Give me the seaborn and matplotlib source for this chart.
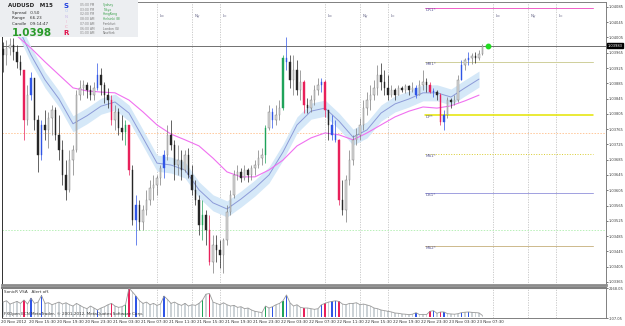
import matplotlib
matplotlib.use("Agg")
import numpy as np
import pandas as pd
import seaborn as sns
from matplotlib import pyplot as plt
from matplotlib.patches import Rectangle
import matplotlib.transforms as mtransforms

# Prices are stored in pips above BASE.
BASE = 1.0300
PIP = 0.0001

first_open = 97.5
bar_high = [
    99.3, 99.8, 100.4, 100.4, 98.5, 95.9, 92.0, 88.0, 91.5, 89.9,
    80.2, 78.9, 81.5, 81.0, 82.8, 82.3, 80.2, 73.7, 68.4, 71.0,
    72.3, 86.7, 89.4, 89.4, 88.8, 88.0, 88.8, 93.8, 92.5, 88.8,
    87.3, 85.4, 82.8, 82.0, 80.2, 78.9, 77.6, 67.1, 59.3, 57.9,
    56.6, 60.6, 63.2, 64.5, 64.5, 67.1, 71.0, 77.6, 78.9, 73.7,
    72.3, 71.0, 71.0, 71.6, 67.1, 63.2, 59.3, 57.9, 55.3, 54.0,
    48.8, 48.8, 47.5, 48.0, 56.6, 60.6, 65.8, 67.1, 66.3, 67.1,
    66.3, 67.1, 68.4, 71.0, 71.6, 77.6, 82.8, 82.0, 82.8, 84.1,
    95.9, 100.6, 95.9, 95.9, 94.6, 92.0, 89.4, 84.6, 85.4, 88.0,
    89.9, 89.9, 89.4, 81.5, 80.2, 78.9, 74.0, 63.2, 64.5, 71.0,
    75.0, 76.8, 79.4, 84.1, 86.2, 88.0, 89.4, 93.3, 93.8, 92.0,
    90.7, 88.0, 87.3, 88.0, 87.8, 88.3, 88.0, 88.8, 88.0, 89.4,
    92.0, 89.9, 88.8, 87.3, 86.7, 86.0, 81.5, 84.9, 84.6, 85.4,
    90.7, 94.6, 95.1, 96.7, 96.4, 96.7, 97.2, 98.8,
]
bar_low = [
    91.5, 93.3, 95.9, 94.6, 92.5, 90.7, 73.7, 77.6, 84.1, 76.3,
    65.3, 68.4, 73.7, 71.6, 75.0, 73.7, 68.4, 61.9, 57.9, 60.0,
    64.5, 70.5, 84.1, 85.4, 84.6, 84.1, 84.1, 86.7, 85.4, 83.3,
    82.0, 77.6, 76.3, 75.0, 73.7, 72.3, 64.5, 51.4, 46.2, 50.1,
    50.1, 54.0, 56.6, 57.9, 59.3, 61.9, 63.7, 68.4, 71.0, 63.2,
    64.5, 63.2, 65.3, 63.7, 59.3, 56.6, 48.8, 47.5, 46.2, 40.9,
    38.8, 41.7, 40.1, 38.8, 46.2, 54.0, 58.5, 63.2, 62.7, 63.2,
    62.7, 63.2, 64.5, 66.3, 67.1, 67.6, 76.3, 76.8, 77.6, 78.9,
    81.5, 92.0, 87.3, 85.4, 85.4, 84.1, 80.7, 80.7, 81.0, 82.8,
    85.4, 86.2, 79.7, 73.7, 73.7, 73.1, 56.6, 54.0, 52.2, 61.9,
    67.1, 72.3, 73.7, 76.3, 80.2, 81.5, 84.1, 85.4, 86.7, 85.4,
    84.1, 84.9, 84.1, 85.4, 86.2, 86.0, 85.4, 86.2, 84.6, 85.4,
    86.7, 86.2, 86.0, 84.9, 84.1, 77.6, 76.3, 79.4, 82.0, 82.8,
    83.6, 89.4, 92.0, 93.3, 93.5, 93.8, 94.6, 95.9,
]
bar_close = [
    95.9, 97.7, 98.5, 96.7, 94.1, 92.0, 78.9, 85.4, 89.9, 78.9,
    69.7, 77.6, 76.3, 79.4, 81.5, 75.0, 71.0, 64.5, 60.6, 68.4,
    71.0, 85.4, 87.3, 88.0, 86.7, 85.4, 87.3, 90.7, 88.0, 85.4,
    84.1, 78.9, 81.0, 76.8, 75.7, 77.6, 65.8, 52.7, 56.6, 52.2,
    55.3, 57.9, 61.1, 61.9, 63.7, 66.3, 69.7, 75.0, 72.3, 67.1,
    68.4, 65.8, 69.7, 64.5, 60.6, 57.9, 51.4, 54.0, 50.1, 41.7,
    46.2, 44.9, 43.5, 47.5, 54.8, 59.3, 64.5, 65.3, 63.7, 65.8,
    64.5, 66.3, 67.1, 68.9, 69.7, 76.8, 81.0, 78.9, 80.2, 82.0,
    95.1, 94.1, 89.4, 92.0, 86.7, 88.8, 82.8, 82.0, 84.1, 86.7,
    88.0, 88.8, 81.5, 77.6, 75.0, 73.7, 57.9, 55.3, 63.2, 68.4,
    73.7, 75.0, 77.6, 82.0, 84.1, 85.4, 87.3, 90.7, 88.8, 87.3,
    85.4, 86.7, 85.4, 87.3, 86.7, 87.8, 86.7, 87.3, 85.4, 88.0,
    88.8, 88.0, 86.2, 86.2, 85.4, 78.4, 80.2, 84.1, 83.6, 84.1,
    89.4, 93.3, 94.6, 95.1, 95.6, 95.1, 96.2, 98.3,
]
bar_volume = [
    1100, 1200, 950, 1050, 1150, 1000, 1260, 950, 1400, 1000,
    1100, 1600, 1000, 1050, 900, 1000, 1100, 950, 1050, 900,
    800, 1000, 850, 700, 600, 800, 650, 500, 650, 750,
    900, 1000, 800, 700, 750, 900, 2170, 1870, 1560, 1200,
    1000, 1100, 900, 1000, 850, 950, 1560, 1300, 1000, 1100,
    950, 850, 1000, 800, 900, 850, 1000, 1250, 1700, 1750,
    1100, 1000, 900, 1050, 900, 800, 850, 700, 750, 600,
    650, 500, 400, 350, 300, 800, 650, 750, 900, 1000,
    1200, 1640, 1050, 800, 900, 700, 650, 650, 600, 550,
    600, 900, 1000, 1100, 1150, 1200, 1150, 950, 900, 1000,
    1000, 1050, 900, 950, 880, 800, 650, 600, 500, 450,
    400, 350, 270, 250, 200, 180, 150, 180, 300, 150,
    170, 150, 400, 450, 250, 350, 350, 220, 200, 180,
    220, 300, 330, 350, 320, 300, 280, 80,
]
# SonicR VSA highlighted bars (bar index -> colour name)
vsa_marks = {
    6: "red", 8: "blue", 11: "blue", 27: "blue", 31: "red", 35: "green",
    36: "red", 38: "blue", 46: "blue", 57: "green", 59: "red", 75: "green",
    77: "blue", 80: "green", 81: "blue", 86: "red", 91: "blue", 92: "red",
    94: "blue", 95: "blue", 96: "red", 118: "blue", 122: "red", 123: "blue",
    125: "red", 126: "blue", 131: "blue", 133: "blue",
}

# moving averages, read every 8 M15 slots (pips above BASE)
dragon_mid = [
    109.0, 103.8, 95.9, 89.4, 84.4, 77.9, 80.0, 82.5, 83.6, 80.7,
    74.2, 67.6, 67.1, 65.8, 60.6, 57.2, 55.6, 58.2, 61.1, 64.5,
    70.5, 77.6, 81.2, 82.0, 78.6, 74.4, 76.3, 80.7, 83.1, 84.4,
    86.0, 86.0, 84.9, 87.3, 89.6,
]
dragon_half_width = 2.1
trend_ma = [
    104.0, 100.9, 97.7, 94.1, 90.7, 87.3, 86.5, 86.2, 86.0, 84.1,
    81.0, 77.6, 75.2, 73.7, 72.1, 68.9, 65.3, 64.0, 64.0, 65.8,
    68.4, 72.1, 74.2, 75.5, 75.0, 73.7, 75.5, 77.6, 79.7, 81.2,
    82.3, 82.0, 82.6, 83.9, 85.4,
]

# pivot levels (pips above BASE)
pivot_names = ["DR1*", "MR1*", "DP*", "MS1*", "DS1*", "MS2*"]
pivot_levels = [108.2, 94.1, 80.2, 70.0, 59.8, 45.9]
pivot_colors = ["#f060c8", "#cfcf9a", "#e4e400", "#d8cc30", "#a0a0e0", "#cdb98c"]
pivot_styles = ["-", "-", "-", ":", "-", "-"]
weekly_levels = [75.5, 50.1]
weekly_colors = ["#ffc89a", "#b8f0b8"]
last_price = 98.3

session_names = ["Lo", "Ny", "Lc"] * 3
session_slots = [88, 108, 124, 184, 204, 220, 280, 300, 316]

time_labels = [
    "20 Nov 2012", "20 Nov 15:30", "20 Nov 19:30", "20 Nov 23:30",
    "21 Nov 03:30", "21 Nov 07:30", "21 Nov 11:30", "21 Nov 15:30",
    "21 Nov 19:30", "21 Nov 23:30", "22 Nov 03:30", "22 Nov 07:30",
    "22 Nov 11:30", "22 Nov 15:30", "22 Nov 19:30", "22 Nov 23:30",
    "23 Nov 03:30", "23 Nov 07:30",
]
price_ticks = [1.03365 + 0.0004 * k for k in range(19)]

info_times = ["05:00 PM", "03:00 PM", "02:00 PM", "08:00 AM", "07:00 AM", "06:00 AM", "01:00 AM"]
info_cities = ["Sydney", "Tokyo", "HongKong", "Helsinki (B)", "Frankfurt", "London (G)", "NewYork"]

# ---------------------------------------------------------------------------
sns.set_style("white")
plt.rcParams["font.family"] = ["DejaVu Sans"]

W, H = 625, 326
RIGHT = 606  # pixel column of the price scale
palette = {"red": "#e8205a", "blue": "#2f55e6", "green": "#1fa35a"}

bars = pd.DataFrame({"high": bar_high, "low": bar_low, "close": bar_close, "volume": bar_volume})
bars["open"] = [first_open] + bar_close[:-1]
for col in ["open", "high", "low", "close"]:
    bars[col] = BASE + bars[col] * PIP
bars["x"] = np.arange(len(bars)) * 2  # one 30-min bar = two M15 slots

ma = pd.DataFrame({"x": np.arange(len(dragon_mid)) * 8,
                   "mid": BASE + np.array(dragon_mid) * PIP,
                   "trend": BASE + np.array(trend_ma) * PIP})

fig = plt.figure(figsize=(W / 100, H / 100), dpi=100)
ax = fig.add_axes([2 / W, 41 / H, (RIGHT - 2) / W, 283 / H])
axv = fig.add_axes([2 / W, 8 / H, (RIGHT - 2) / W, 30 / H], sharex=ax)

xlim = (-0.57, (RIGHT - 3) / 1.75)
ax.set_xlim(*xlim)
ax.set_ylim(BASE + 35.69 * PIP, BASE + 109.78 * PIP)

# session separators
for slot, name in zip(session_slots, session_names):
    for a in (ax, axv):
        a.axvline(slot, color="#c4c4c4", lw=0.6, ls=(0, (1.5, 1.5)), zorder=0)
    ax.text(slot + 1.5, BASE + 106.0 * PIP, name, fontsize=3, color="#6a6a8a", va="center")

# weekly pivots / current price (full width)
for lvl, col in zip(weekly_levels, weekly_colors):
    ax.axhline(BASE + lvl * PIP, color=col, lw=0.7, ls=(0, (1.5, 1.5)), zorder=1)
ax.axhline(BASE + last_price * PIP, color="#707070", lw=0.7, zorder=1)

# dragon band + moving averages
ax.fill_between(ma["x"], ma["mid"] - dragon_half_width * PIP, ma["mid"] + dragon_half_width * PIP,
                color="#d5e8f8", lw=0, zorder=1)
sns.lineplot(data=ma, x="x", y="mid", ax=ax, color="#8c9ad8", lw=0.7, zorder=2)
sns.lineplot(data=ma, x="x", y="trend", ax=ax, color="#f070f0", lw=0.8, zorder=2)

# candles
up = bars["close"] >= bars["open"]
faces, edges = [], []
for i, is_up in enumerate(up):
    name = vsa_marks.get(i)
    if name:
        faces.append(palette[name]); edges.append(palette[name])
    elif is_up:
        faces.append("#d8d8d8"); edges.append("#7a7a7a")
    else:
        faces.append("#262626"); edges.append("#262626")
ax.vlines(bars["x"], bars["low"], bars["high"], colors=edges, lw=0.5, zorder=3)
body_lo = np.minimum(bars["open"], bars["close"])
body_h = np.maximum(np.abs(bars["close"] - bars["open"]), 0.2 * PIP)
ax.bar(bars["x"], body_h, bottom=body_lo, width=0.95, color=faces, edgecolor=edges, lw=0.3, zorder=4)

# daily / monthly pivots on the right
for name, lvl, col, ls in zip(pivot_names, pivot_levels, pivot_colors, pivot_styles):
    y = BASE + lvl * PIP
    lw = 1.1 if name == "DP*" else 0.7
    ax.plot([241, 337], [y, y], color=col, lw=lw, ls=ls, zorder=2)
    ax.text(241.5, y, name, fontsize=3, color="#5a5a96", va="top", zorder=5)

ax.plot([277], [BASE + last_price * PIP], "o", color="#22dd22", ms=3.2, zorder=6)

# price axis
ax.yaxis.tick_right()
ax.set_yticks(price_ticks)
ax.set_yticklabels([f"{p:.5f}" for p in price_ticks])
ax.tick_params(axis="y", labelsize=2.6, length=1.2, pad=0.6, colors="#404040", width=0.5)
ax.tick_params(axis="x", bottom=False, labelbottom=False)
ax.set_xlabel("")
ax.set_ylabel("")
ax.text(1.0025, BASE + last_price * PIP, "1.03983", fontsize=2.6, color="white", va="center", ha="left",
        transform=mtransforms.blended_transform_factory(ax.transAxes, ax.transData),
        bbox=dict(boxstyle="square,pad=0.12", fc="black", ec="black"), zorder=7, clip_on=False)

for s in ax.spines.values():
    s.set_color("#808080"); s.set_linewidth(0.7)
ax.spines["left"].set_color("#303030")
ax.spines["bottom"].set_linewidth(2.0)
ax.spines["bottom"].set_color("#8c8c8c")

# volume panel
vcol = [palette[vsa_marks[i]] if i in vsa_marks else "#ccd2d6" for i in range(len(bars))]
axv.bar(bars["x"], bars["volume"], width=1.0, color=vcol, lw=0, zorder=2)
sns.lineplot(data=bars, x="x", y="volume", ax=axv, color="#9a9a9a", lw=0.6, zorder=3)
axv.set_ylim(-107.05, 2168.05)
axv.yaxis.tick_right()
axv.set_yticks([2168.05, -107.05])
axv.set_yticklabels(["2168.05", "-107.05"])
axv.tick_params(axis="y", labelsize=2.6, length=1.2, pad=0.6, colors="#404040", width=0.5)
axv.set_xticks([16 * k for k in range(len(time_labels))])
axv.set_xticklabels([])
axv.tick_params(axis="x", length=1.5, width=0.5, colors="#606060")
for k, lab in enumerate(time_labels):
    axv.text(16 * k - 1, -0.08, lab, fontsize=2.9, color="#303030", ha="left", va="top",
             transform=mtransforms.blended_transform_factory(axv.transData, axv.transAxes),
             clip_on=False)
axv.set_xlabel("")
axv.set_ylabel("")
for s in axv.spines.values():
    s.set_color("#808080"); s.set_linewidth(0.7)
axv.spines["top"].set_linewidth(1.5)
axv.spines["left"].set_color("#303030")
axv.text(0.003, 0.93, "SonicR VSA   Alert off.", transform=axv.transAxes, fontsize=3,
         color="#303030", va="top")
axv.text(0.003, 0.12, "FXOpen ECN MetaTrader, \u00a9 2001-2012, MetaQuotes Software Corp.",
         transform=axv.transAxes, fontsize=3, color="#303030", va="center", zorder=5)
axv.set_xlim(*xlim)


# info panel (top-left), positioned in figure pixels
def fx(px):
    return px / W


def fy(py):
    return 1 - py / H


fig.add_artist(Rectangle((0, fy(37)), fx(138), 37 / H, transform=fig.transFigure,
                         fc="#eceef1", ec="none", zorder=5))
fig.text(fx(8), fy(5.5), "AUDUSD   M15", fontsize=4, weight="bold", va="center", zorder=6)
fig.text(fx(12), fy(13), "Spread   0.50", fontsize=3, color="#303030", va="center", zorder=6)
fig.text(fx(12), fy(18.5), "Range    66.23", fontsize=3, color="#303030", va="center", zorder=6)
fig.text(fx(12), fy(24), "Candle   09:14:47", fontsize=3, color="#303030", va="center", zorder=6)
fig.text(fx(12), fy(32.5), "1.0398", fontsize=7.5, weight="bold", color="#2a9a2a", va="center", zorder=6)
sonic = [("S", "#2040e0", 6), ("o", "#b0c8f0", 11.5), ("n", "#c8b8e8", 17),
         ("i", "#f0b8d0", 22), ("c", "#f098b8", 27), ("R", "#e0104a", 33)]
for ch, col, py in sonic:
    bold = ch in ("S", "R")
    fig.text(fx(66), fy(py), ch.upper(), fontsize=5 if bold else 3, weight="bold" if bold else "normal",
             color=col, va="center", ha="center", zorder=6)
for r, (t, c) in enumerate(zip(info_times, info_cities)):
    py = 5 + 4.7 * r
    city_col = "#3aa04a" if r < 4 else "#707070"
    fig.text(fx(80), fy(py), t, fontsize=2.2, color="#808080", va="center", zorder=6)
    fig.text(fx(103), fy(py), c, fontsize=2.2, color=city_col, va="center", zorder=6)

fig.savefig("out.png", dpi=100)
